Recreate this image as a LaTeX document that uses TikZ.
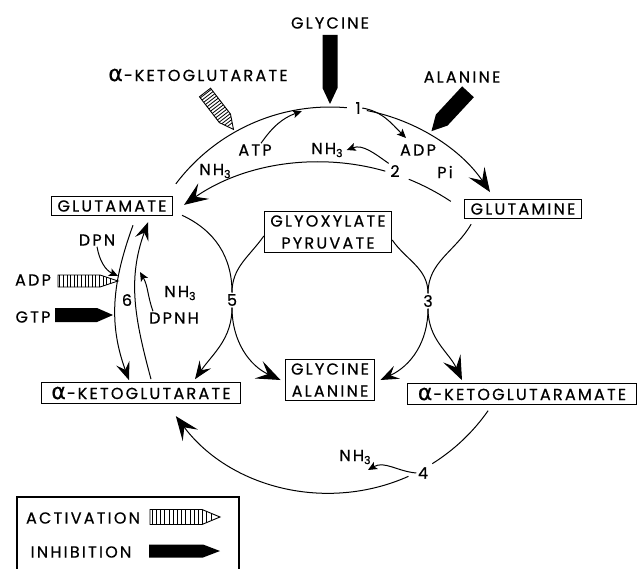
\documentclass[tikz,border=0pt]{standalone}
\usepackage{fontspec}
\setmainfont{Poppins}[LetterSpace=14,FakeBold=0.6]
\newfontfamily\grk{DejaVu Sans}[FakeBold=0.6]
\usetikzlibrary{arrows.meta,calc}

\newcommand\ak{{\grk\fontsize{22}{22}\selectfont α}\kern1pt-\kern2pt}
\newcommand\nh{NH\raisebox{-0.35ex}{\fontsize{11}{11}\selectfont 3}}

% filled block arrow: tail, tip, half width, tip length
\newcommand\solidarrow[4]{%
  \path (#1) coordinate (sa-a) (#2) coordinate (sa-t);
  \path ($(sa-t)!#4!(sa-a)$) coordinate (sa-b);
  \fill ($(sa-a)!#3!90:(sa-t)$) -- ($(sa-b)!#3!-90:(sa-a)$) -- (sa-t)
    -- ($(sa-b)!#3!90:(sa-a)$) -- ($(sa-a)!#3!-90:(sa-t)$) -- cycle;}

% striped block arrow: tail, tip, half width, tip length
\newcommand\hatcharrow[4]{%
  \path (#1) coordinate (ha-a) (#2) coordinate (ha-t);
  \path ($(ha-t)!#4!(ha-a)$) coordinate (ha-b);
  \path ($(ha-a)!#3!90:(ha-t)$) coordinate (ha-1)
    ($(ha-b)!#3!-90:(ha-a)$) coordinate (ha-2)
    ($(ha-b)!#3!90:(ha-a)$) coordinate (ha-3)
    ($(ha-a)!#3!-90:(ha-t)$) coordinate (ha-4);
  \begin{scope}
    \clip (ha-1) -- (ha-2) -- (ha-t) -- (ha-3) -- (ha-4) -- cycle;
    \foreach \s in {0.03,0.09,...,0.88}{
      \path ($(ha-a)!\s!(ha-t)$) coordinate (ha-s);
      \draw[line width=0.8pt] ($(ha-s)!12pt!90:(ha-t)$) -- ($(ha-s)!12pt!-90:(ha-t)$);}
  \end{scope}
  \draw[line width=0.9pt] (ha-1) -- (ha-2) -- (ha-t) -- (ha-3) -- (ha-4) -- cycle;}

\tikzset{
  lbl/.style={font=\fontsize{16}{19}\selectfont, inner sep=1pt},
  boxed/.style={font=\fontsize{16}{22}\selectfont, draw, line width=1.1pt,
    inner xsep=6pt, inner ysep=4pt, align=center},
  num/.style={font=\fontsize{16}{16}\selectfont, inner sep=1.5pt},
  curve/.style={line width=1pt},
  bigtip/.style={curve, -{Stealth[length=24pt,width=19pt,inset=10pt]}},
  midtip/.style={curve, -{Stealth[length=18pt,width=14pt,inset=7pt]}},
  smalltip/.style={curve, -{Stealth[length=9pt,width=8pt,inset=2pt]}},
}

\begin{document}
\begin{tikzpicture}[x=1pt,y=1pt]
  \clip (0,0) rectangle (642,-569);
  \coordinate (O) at (330,-300);
  \coordinate (Q) at (320,-399);

  % compounds
  \node[boxed] (glu)  at (112,-206) {GLUTAMATE};
  \node[boxed] (gln)  at (523,-209) {GLUTAMINE};
  \node[boxed] (glx)  at (328,-232) {GLYOXYLATE\\PYRUVATE};
  \node[boxed] (gly)  at (330,-380) {GLYCINE\\ALANINE};
  \node[boxed,inner xsep=10pt] (akg)  at (141,-393) {\ak KETOGLUTARATE};
  \node[boxed,inner xsep=10pt] (akgm) at (522,-394) {\ak KETOGLUTARAMATE};

  % reaction numbers
  \node[num] (r1) at (358,-108) {1};
  \node[num] (r2) at (395,-171) {2};
  \node[num] (r3) at (428,-301) {3};
  \node[num] (r4) at (423,-473) {4};
  \node[num] (r5) at (232,-300) {5};
  \node[num] (r6) at (127,-300) {6};

  % cofactors and effectors
  \node[lbl] (glytop) at (330,-23)  {GLYCINE};
  \node[lbl] (akgtop) at (198,-75)  {\ak KETOGLUTARATE};
  \node[lbl] (alatop) at (462,-77)  {ALANINE};
  \node[lbl] (atp)    at (255,-150) {ATP};
  \node[lbl] (nh3a)   at (327,-150) {\nh};
  \node[lbl] (adp)    at (418,-150) {ADP};
  \node[lbl] (nh3b)   at (215,-171) {\nh};
  \node[lbl] (pi)     at (445,-172) {Pi};
  \node[lbl] (dpn)    at (97,-240)  {DPN};
  \node[lbl] (nh3c)   at (180,-293) {\nh};
  \node[lbl] (dpnh)   at (174,-318) {DPNH};
  \node[lbl] (adpl)   at (33,-280)  {ADP};
  \node[lbl] (gtp)    at (33,-317)  {GTP};
  \node[lbl] (nh3d)   at (355,-457) {\nh};

  % big cycle
  \draw[curve] ([shift={(143:193)}]O) arc[start angle=143,end angle=85,radius=193];
  \draw[bigtip] ([shift={(79:193)}]O) arc[start angle=79,end angle=34,radius=193];
  \draw[curve] ([shift={(56.5:237)}]Q) arc[start angle=56.5,end angle=68,radius=237];
  \draw[bigtip] ([shift={(74:237)}]Q) arc[start angle=74,end angle=125,radius=237];
  \draw[curve] ([shift={(-35:193)}]O) arc[start angle=-35,end angle=-58,radius=193];
  \draw[bigtip] ([shift={(-66:193)}]O) arc[start angle=-66,end angle=-143,radius=193];

  % side arrows
  \draw[smalltip] ([xshift=6pt]atp.north) to[out=55,in=-160] ([shift={(98.5:191)}]O);
  \draw[smalltip] (r1.east) to[out=-10,in=135] ([shift={(-12,12)}]adp.center);
  \draw[smalltip] (r2.north west) to[out=145,in=20] ([xshift=3pt]nh3a.east);
  \draw[smalltip] (r4.west) to[out=175,in=30] ([shift={(13,-13)}]nh3d.center);
  \draw[smalltip] (dpn.south) to[out=-80,in=155] ([shift={(-9,24)}]r6.center);
  \draw[smalltip] ([xshift=5pt]dpnh.north west) to[out=110,in=-60] ([shift={(13,28)}]r6.center);

  % reaction 5
  \draw[curve] ([shift={(9,1)}]glu.south east) to[out=-25,in=90] (r5.north);
  \draw[curve] ([yshift=-4pt]glx.west) to[out=-125,in=90] (r5.north);
  \draw[midtip] (r5.south) to[out=-90,in=55] ([shift={(54,3)}]akg.north);
  \draw[bigtip] (r5.south) to[out=-90,in=155] ([xshift=-4pt]gly.west);

  % reaction 3
  \draw[curve] ([yshift=-8pt]glx.east) to[out=-55,in=90] (r3.north);
  \draw[curve] ([shift={(7,-5)}]gln.south west) to[out=-120,in=90] (r3.north);
  \draw[midtip] (r3.south) to[out=-90,in=25] ([xshift=5pt]gly.east);
  \draw[bigtip] (r3.south) to[out=-90,in=115] ([shift={(-60,3)}]akgm.north);

  % reaction 6
  \draw[midtip] ([shift={(21,-9)}]glu.south) to[out=-110,in=110] ([shift={(-12,2)}]akg.north);
  \draw[midtip] ([shift={(10,3)}]akg.north) to[out=105,in=-110] ([shift={(36,-6)}]glu.south);

  % effectors
  \solidarrow{[yshift=-5pt]glytop.south}{$(O)+(90:196)$}{7.5pt}{16pt}
  \hatcharrow{[shift={(7,-10)}]akgtop.south}{$(O)+(119.5:196)$}{7pt}{14pt}
  \solidarrow{[shift={(6,-8)}]alatop.south}{$(O)+(59:197)$}{8pt}{15pt}
  \hatcharrow{58,-281}{118,-281}{6pt}{18pt}
  \solidarrow{55,-315}{113,-315}{7pt}{16pt}

  % legend
  \draw[line width=1.1pt] (17,-497) rectangle (239,-600);
  \node[lbl] (act) at (83,-518) {ACTIVATION};
  \node[lbl] (inh) at (81,-552) {INHIBITION};
  \hatcharrow{150,-517}{220,-517}{7.5pt}{18pt}
  \solidarrow{149,-551}{220,-551}{6.5pt}{17pt}
\end{tikzpicture}
\end{document}
